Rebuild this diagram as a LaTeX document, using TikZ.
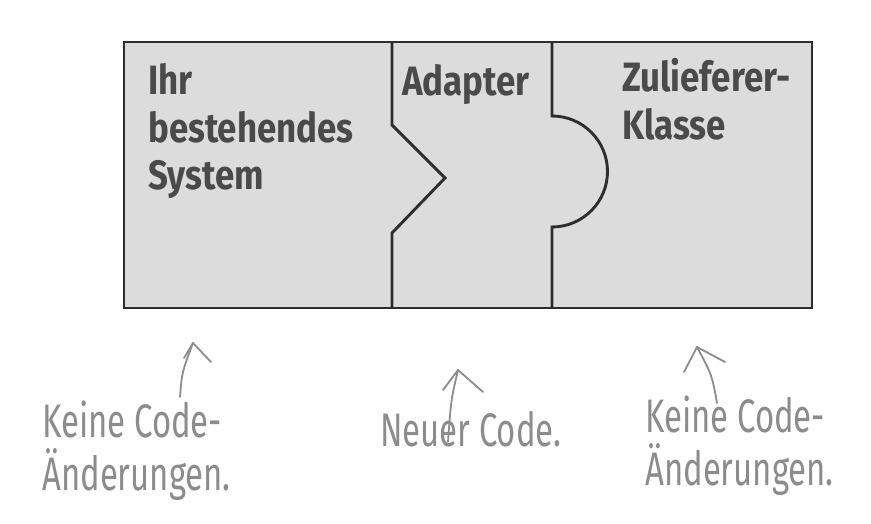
\documentclass[tikz,border=0pt]{standalone}
\usepackage{fontspec}
\newfontfamily\headfont[FakeStretch=0.85]{Fira Sans}
\newfontfamily\handfont[FakeStretch=0.7]{Fira Sans}
\definecolor{boxfill}{HTML}{DCDCDC}
\definecolor{boxline}{HTML}{2E2E2E}
\definecolor{headcol}{HTML}{4A4A4A}
\definecolor{handcol}{HTML}{8C8C8C}
\begin{document}
\begin{tikzpicture}[x=1pt,y=-1pt,
  headtext/.style={font=\headfont\bfseries\fontsize{41}{48}\selectfont, text=headcol, align=left, inner sep=0pt, anchor=base west},
  handtext/.style={font=\handfont\fontsize{47}{53}\selectfont, text=handcol, align=left, inner sep=0pt, anchor=base west},
  handarrow/.style={draw=handcol, line width=1.8pt, line cap=round, line join=round},
  border/.style={draw=boxline, line width=2.9pt, line join=miter}]
\useasboundingbox (0,0) rectangle (871,524);
\fill[white] (0,0) rectangle (871,524);
\path[fill=boxfill] (124,42) rectangle (812,308);
\draw[border] (392,42) -- (392,125) -- (445,178) -- (392,233) -- (392,308);
\draw[border] (552,42) -- (552,116) arc[start angle=-90,end angle=90,radius=55.5] -- (552,308);
\draw[border] (124,42) rectangle (812,308);
\node[headtext] (sys) at (148,190) {Ihr\\bestehendes\\System};
\node[headtext] (adp) at (402,96) {Adapter};
\node[headtext] (zul) at (622,140) {Zulieferer-\\Klasse};
\node[handtext] (n1) at (42,490) {Keine Code-\\Änderungen.};
\node[handtext] (n2) at (380,446) {Neuer Code.};
\node[handtext] (n3) at (645,485) {Keine Code-\\Änderungen.};
\coordinate (a1s) at (180,397);
\coordinate (a1t) at (193,343);
\coordinate (a1r) at (211,362);
\coordinate (a1l) at (184,358);
\coordinate (a2s) at (448,442);
\coordinate (a2t) at (458,370);
\coordinate (a2r) at (483,392);
\coordinate (a2l) at (443,390);
\coordinate (a3s) at (717,403);
\coordinate (a3t) at (697,347);
\coordinate (a3r) at (725,362);
\coordinate (a3l) at (684,372);
\draw[handarrow] (a1s) .. controls (182,372) .. (a1t);
\draw[handarrow] (a1l) -- (a1t) -- (a1r);
\draw[handarrow] (a2s) .. controls (451,400) .. (a2t);
\draw[handarrow] (a2l) -- (a2t) -- (a2r);
\draw[handarrow] (a3s) .. controls (712,375) .. (a3t);
\draw[handarrow] (a3l) -- (a3t) -- (a3r);
\end{tikzpicture}
\end{document}
